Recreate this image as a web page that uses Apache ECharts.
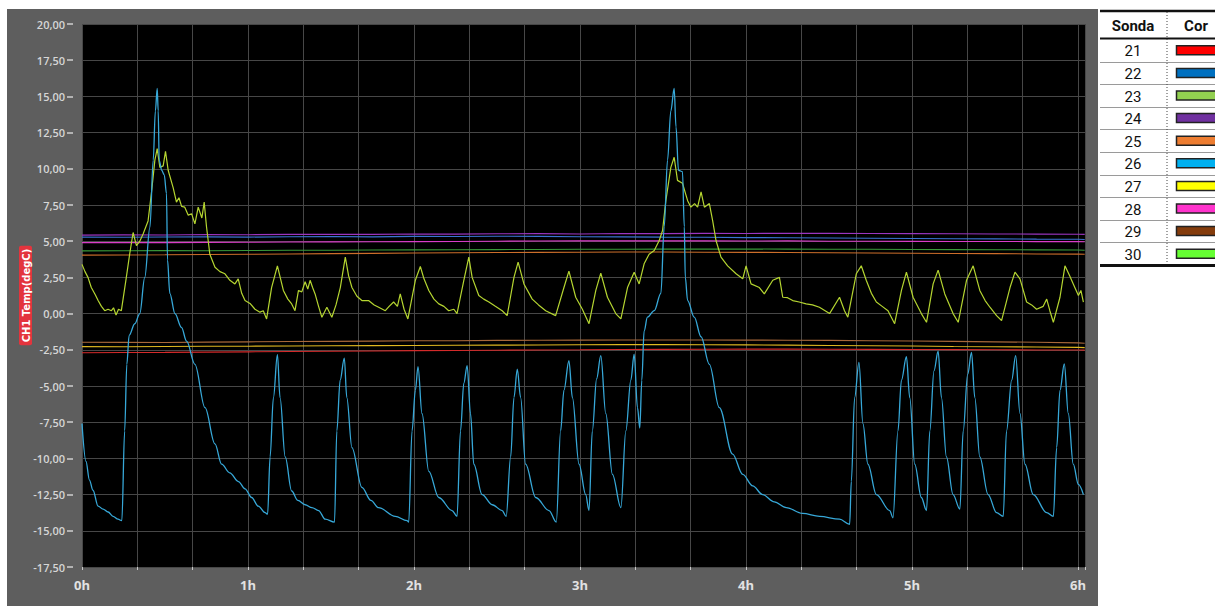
<!DOCTYPE html>
<html>
<head>
<meta charset="utf-8">
<script src="https://cdn.jsdelivr.net/npm/echarts@6/dist/echarts.min.js"></script>
<style>
html,body{margin:0;padding:0;background:#fff;}
#chart{width:1215px;height:606px;}
</style>
</head>
<body>
<div id="chart"></div>
<script>
// ---------- DATA ----------
var xTickLabels = ['0h','1h','2h','3h','4h','5h','6h'];
var yTickLabels = ['20,00','17,50','15,00','12,50','10,00','7,50','5,00','2,50','0,00','-2,50','-5,00','-7,50','-10,00','-12,50','-15,00','-17,50'];

var probeIds = ['21','22','23','24','25','26','27','28','29','30'];
var probeSwatchColors = ['#ff0000','#0070c0','#92d050','#7030a0','#ed7d31','#00b0f0','#ffff00','#ff33cc','#843c0c','#66ff33'];

// time (hours) for slowly varying probes
var tFlat = [0,0.25,0.5,0.75,1,1.25,1.5,1.75,2,2.25,2.5,2.75,3,3.25,3.5,3.75,4,4.25,4.5,4.75,5,5.25,5.5,5.75,6,6.04];
var v24 = [5.42,5.44,5.43,5.46,5.45,5.47,5.48,5.47,5.50,5.49,5.51,5.52,5.50,5.53,5.52,5.54,5.53,5.55,5.54,5.53,5.52,5.51,5.50,5.49,5.48,5.47];
var v22 = [5.28,5.27,5.29,5.30,5.28,5.31,5.32,5.30,5.33,5.32,5.34,5.33,5.31,5.30,5.28,5.27,5.25,5.24,5.22,5.20,5.19,5.17,5.16,5.14,5.13,5.12];
var v28 = [4.90,4.91,4.90,4.92,4.93,4.94,4.95,4.96,4.97,4.98,5.00,5.01,5.02,5.02,5.03,5.02,5.01,5.02,5.00,5.00,4.99,4.98,4.98,4.97,4.97,4.96];
var v30 = [4.33,4.34,4.35,4.34,4.36,4.37,4.38,4.39,4.40,4.41,4.42,4.43,4.44,4.44,4.45,4.45,4.46,4.45,4.44,4.44,4.43,4.42,4.41,4.40,4.39,4.38];
var v25 = [4.04,4.05,4.06,4.08,4.10,4.12,4.14,4.16,4.18,4.20,4.22,4.23,4.24,4.25,4.25,4.24,4.23,4.22,4.20,4.19,4.17,4.15,4.14,4.12,4.11,4.10];
var v29 = [-1.98,-1.99,-2.00,-1.97,-1.95,-1.93,-1.92,-1.90,-1.88,-1.87,-1.85,-1.84,-1.83,-1.82,-1.82,-1.82,-1.83,-1.84,-1.85,-1.87,-1.89,-1.92,-1.95,-1.98,-2.02,-2.05];
var v27 = [-2.28,-2.29,-2.27,-2.26,-2.25,-2.24,-2.22,-2.21,-2.20,-2.19,-2.18,-2.17,-2.15,-2.14,-2.14,-2.15,-2.16,-2.18,-2.20,-2.22,-2.24,-2.27,-2.29,-2.31,-2.33,-2.35];
var v21 = [-2.70,-2.69,-2.68,-2.66,-2.64,-2.62,-2.60,-2.58,-2.56,-2.55,-2.53,-2.51,-2.50,-2.48,-2.47,-2.46,-2.45,-2.45,-2.46,-2.47,-2.48,-2.49,-2.50,-2.51,-2.51,-2.52];

// probe 26 (cyan)
var t26 = [0,0.024,0.045,0.066,0.097,0.127,0.157,0.187,0.217,0.240,0.257,0.270,0.284,0.318,0.348,0.378,0.409,0.429,0.442,0.453,0.459,0.465,0.480,0.495,0.509,0.515,0.529,0.560,0.599,0.630,0.680,0.741,0.801,0.841,0.890,0.942,0.982,1.022,1.062,1.103,1.118,1.133,1.153,1.177,1.193,1.224,1.263,1.300,1.344,1.385,1.425,1.465,1.521,1.535,1.555,1.580,1.595,1.626,1.686,1.740,1.787,1.887,1.958,1.968,1.988,2.008,2.024,2.048,2.089,2.149,2.229,2.259,2.280,2.300,2.320,2.340,2.360,2.410,2.471,2.531,2.555,2.582,2.602,2.622,2.642,2.672,2.733,2.813,2.857,2.883,2.903,2.933,2.954,2.994,3.034,3.054,3.074,3.100,3.125,3.155,3.195,3.246,3.276,3.306,3.326,3.346,3.360,3.372,3.386,3.406,3.447,3.487,3.507,3.527,3.547,3.567,3.578,3.593,3.617,3.628,3.634,3.648,3.688,3.729,3.779,3.839,3.919,3.980,4.040,4.100,4.170,4.242,4.340,4.443,4.563,4.624,4.634,4.654,4.680,4.704,4.734,4.785,4.865,4.885,4.915,4.936,4.966,4.986,5.016,5.056,5.087,5.107,5.132,5.157,5.177,5.207,5.247,5.288,5.308,5.335,5.358,5.378,5.408,5.458,5.509,5.549,5.569,5.600,5.624,5.650,5.680,5.730,5.811,5.851,5.871,5.891,5.917,5.941,5.971,6.002,6.032];
var v26 = [-7.6,-10.2,-11.5,-12.2,-13.3,-13.5,-13.7,-14.0,-14.2,-14.3,-8.1,-3.5,-1.5,-0.7,0.0,2.5,5.95,10.6,14.0,15.55,14.0,10.6,9.9,9.6,8.3,3.7,1.4,0.0,-0.95,-1.9,-3.5,-6.5,-9.0,-10.4,-11.0,-11.6,-12.1,-12.7,-13.3,-13.75,-13.85,-9.9,-5.8,-2.84,-5.8,-9.9,-12.25,-12.9,-13.2,-13.4,-13.6,-14.2,-14.4,-8.1,-4.6,-3.07,-5.8,-9.25,-12.0,-12.9,-13.4,-14.0,-14.3,-14.4,-8.1,-5.3,-3.67,-6.9,-10.9,-12.7,-13.6,-14.0,-8.1,-4.8,-3.6,-6.9,-10.4,-12.5,-13.2,-13.6,-14.0,-9.9,-5.8,-3.83,-5.8,-10.4,-12.7,-13.6,-14.4,-8.1,-5.3,-3.25,-5.8,-10.4,-12.5,-13.6,-8.1,-4.5,-2.9,-6.9,-11.1,-13.4,-8.1,-4.6,-2.8,-6.5,-7.9,-4.6,-1.2,-0.25,0.2,1.4,6.0,10.6,14.0,15.55,12.9,9.9,9.8,6.0,2.5,0.9,-0.25,-1.6,-3.5,-6.5,-9.7,-11.1,-11.9,-12.5,-13.0,-13.4,-13.8,-14.0,-14.2,-14.55,-11.6,-5.8,-3.37,-7.6,-10.4,-12.5,-13.6,-14.1,-8.1,-4.6,-2.98,-5.8,-10.4,-12.7,-13.6,-8.1,-3.95,-2.6,-5.8,-9.9,-12.5,-13.5,-8.1,-4.2,-2.68,-5.8,-9.9,-12.5,-13.75,-14.0,-8.1,-4.6,-2.9,-6.9,-10.4,-12.5,-13.75,-14.0,-9.25,-5.3,-3.48,-6.9,-10.4,-11.8,-12.5];

// probe 23 (yellow-green)
var t23 = [0,0.018,0.036,0.056,0.066,0.080,0.097,0.117,0.137,0.157,0.177,0.190,0.205,0.220,0.237,0.267,0.287,0.308,0.328,0.348,0.368,0.398,0.418,0.439,0.453,0.469,0.489,0.503,0.519,0.549,0.569,0.584,0.600,0.619,0.640,0.660,0.680,0.700,0.722,0.736,0.750,0.770,0.801,0.831,0.861,0.891,0.921,0.941,0.962,0.982,1.012,1.042,1.072,1.092,1.112,1.142,1.177,1.213,1.240,1.263,1.283,1.304,1.324,1.344,1.360,1.374,1.389,1.404,1.425,1.445,1.475,1.505,1.530,1.556,1.586,1.606,1.626,1.656,1.686,1.726,1.760,1.787,1.827,1.850,1.877,1.900,1.917,1.940,1.963,2.008,2.038,2.060,2.089,2.120,2.149,2.180,2.209,2.240,2.259,2.300,2.330,2.350,2.390,2.420,2.451,2.490,2.531,2.561,2.602,2.627,2.662,2.712,2.750,2.793,2.853,2.903,2.933,2.974,3.014,3.054,3.095,3.125,3.165,3.215,3.246,3.286,3.326,3.356,3.386,3.416,3.447,3.477,3.497,3.517,3.547,3.567,3.587,3.617,3.648,3.668,3.690,3.708,3.729,3.749,3.779,3.799,3.819,3.849,3.889,3.940,3.980,4.000,4.030,4.080,4.110,4.161,4.201,4.221,4.250,4.281,4.320,4.362,4.400,4.442,4.503,4.563,4.593,4.613,4.664,4.694,4.724,4.755,4.785,4.820,4.855,4.895,4.936,4.966,5.006,5.056,5.087,5.127,5.157,5.197,5.247,5.278,5.328,5.368,5.408,5.440,5.469,5.509,5.539,5.590,5.620,5.650,5.690,5.720,5.750,5.790,5.811,5.830,5.851,5.891,5.921,5.950,5.971,6.002,6.017,6.032];
var v23 = [3.4,2.9,2.5,1.8,1.6,1.3,0.9,0.5,0.2,0.3,0.2,0.4,-0.1,0.3,0.2,2.5,4.1,5.6,4.7,5.0,5.5,6.4,8.3,10.6,11.4,10.1,10.2,11.2,9.9,8.7,7.7,8.0,7.4,7.35,6.8,6.9,6.2,7.35,6.6,7.7,6.0,4.1,3.2,2.9,2.75,2.3,2.05,2.4,1.4,0.9,0.7,0.3,0.1,0.2,-0.37,1.8,3.3,1.6,1.0,0.67,0.2,1.6,1.5,2.2,1.7,2.3,1.8,1.36,0.5,-0.25,0.44,-0.25,0.6,1.8,3.9,2.6,1.8,1.2,0.9,0.9,0.6,0.44,0.2,0.5,0.8,0.5,1.36,0.3,-0.37,2.3,3.25,2.4,1.6,1.0,0.67,0.5,0.2,0.3,0.0,2.3,3.9,2.5,1.25,1.0,0.8,0.5,0.2,-0.14,2.5,3.55,2.05,1.0,0.6,0.2,-0.14,1.8,2.93,1.13,0.3,-0.7,1.6,2.8,1.13,0.0,-0.37,1.8,2.86,2.05,3.44,4.1,4.36,5.05,5.74,7.8,10.1,10.8,9.2,9.0,7.8,7.35,7.6,7.35,8.4,7.35,7.6,6.4,5.05,3.9,3.3,2.75,2.4,3.3,2.05,1.8,1.36,2.3,2.5,1.13,1.1,0.9,0.8,0.67,0.6,0.44,0.0,1.13,0.2,-0.25,2.75,3.3,2.3,1.4,0.8,0.5,0.2,-0.7,1.6,2.86,1.13,0.0,-0.6,2.05,3.0,1.36,0.0,-0.6,2.3,3.3,1.6,0.9,0.44,-0.14,-0.48,1.8,2.86,2.4,0.8,0.6,0.3,0.5,1.0,0.2,-0.6,1.13,3.3,2.6,2.05,1.25,1.6,0.8];

// ---------- BUILD ----------
function pairs(t, v){ return t.map(function(h,i){ return [h*60, v[i]]; }); }

var lineColors = {
  '21':'#d42a2a','22':'#3a73d4','23':'#b5d531','24':'#9a35c0','25':'#cc6e2a',
  '26':'#37a8d8','27':'#e0b820','28':'#d93cc8','29':'#a8683a','30':'#3a9a3a'
};
function mkSeries(name, data, w, smooth){
  var s = {name:name, type:'line', data:data, showSymbol:false, symbol:'none', silent:true,
    animation:false, lineStyle:{color:lineColors[name], width:w||1.1}, itemStyle:{color:lineColors[name]}};
  if (smooth){ s.smooth = smooth; s.smoothMonotone = 'x'; }
  return s;
}
var series = [
  mkSeries('24', pairs(tFlat, v24)),
  mkSeries('22', pairs(tFlat, v22)),
  mkSeries('28', pairs(tFlat, v28)),
  mkSeries('30', pairs(tFlat, v30)),
  mkSeries('25', pairs(tFlat, v25)),
  mkSeries('29', pairs(tFlat, v29)),
  mkSeries('27', pairs(tFlat, v27)),
  mkSeries('21', pairs(tFlat, v21)),
  mkSeries('23', pairs(t23, v23), 1.2),
  mkSeries('26', pairs(t26, v26), 1.3, 0.35)
];

// legend table (graphic)
var tbl = [];
var tL = 1100, tR = 1216, sepX = 1167, rowTop = 39, rowH = 22.6;
tbl.push({type:'line', shape:{x1:tL,y1:11,x2:tR,y2:11}, style:{stroke:'#111', lineWidth:2.5}});
tbl.push({type:'text', x:1133, y:26, style:{text:'Sonda', font:'bold 15px Roboto', fill:'#111', align:'center', verticalAlign:'middle'}});
tbl.push({type:'text', x:1196, y:26, style:{text:'Cor', font:'bold 15px Roboto', fill:'#111', align:'center', verticalAlign:'middle'}});
tbl.push({type:'line', shape:{x1:tL,y1:38.5,x2:tR,y2:38.5}, style:{stroke:'#111', lineWidth:2}});
for (var i=0;i<probeIds.length;i++){
  var cy = rowTop + rowH*i + rowH/2;
  tbl.push({type:'text', x:1133, y:cy+1, style:{text:probeIds[i], font:'15px Roboto', fill:'#111', align:'center', verticalAlign:'middle'}});
  tbl.push({type:'rect', shape:{x:1176.5, y:cy-4.5, width:45, height:9}, style:{fill:probeSwatchColors[i], stroke:'#222', lineWidth:1.5}});
  if (i < probeIds.length-1){
    var ly = Math.round(rowTop + rowH*(i+1)) + 0.5;
    tbl.push({type:'line', shape:{x1:tL,y1:ly,x2:tR,y2:ly}, style:{stroke:'#9a9a9a', lineWidth:1}});
  }
}
tbl.push({type:'line', shape:{x1:tL,y1:265.5,x2:tR,y2:265.5}, style:{stroke:'#111', lineWidth:3}});
tbl.push({type:'line', shape:{x1:sepX,y1:12,x2:sepX,y2:264}, style:{stroke:'#444', lineWidth:1, lineDash:[1,2]}});

var chart = echarts.init(document.getElementById('chart'), null, {renderer:'svg'});
chart.setOption({
  backgroundColor:'#ffffff',
  animation:false,
  graphic:[
    {type:'rect', z:-10, silent:true, shape:{x:7, y:9, width:1091, height:600}, style:{fill:'#5e5e5e'}}
  ].concat(tbl),
  grid:{left:82, top:24, right:130, bottom:39, show:true, backgroundColor:'#000000', borderWidth:0},
  xAxis:{
    type:'value', min:0, max:362.5, interval:20,
    axisLine:{show:true, onZero:false, lineStyle:{color:'rgba(0,0,0,0)'}},
    axisTick:{show:true, length:3, lineStyle:{color:'#c8c8c8', width:1}},
    axisLabel:{color:'#e2e2e2', fontSize:13, fontWeight:'bold', fontFamily:'Open Sans', margin:11,
      showMinLabel:true, showMaxLabel:true, hideOverlap:false,
      formatter:function(v){ return (Math.abs(v % 60) < 1e-6) ? xTickLabels[Math.round(v/60)] : ''; }},
    splitLine:{show:true, lineStyle:{color:'#474747', width:1}}
  },
  yAxis:{
    type:'value', min:-17.5, max:20, interval:2.5, offset:9,
    axisLine:{show:true, onZero:false, lineStyle:{color:'rgba(0,0,0,0)'}},
    axisTick:{show:true, length:6, lineStyle:{color:'#d0d0d0', width:1.5}},
    axisLabel:{color:'#d6d6d6', fontSize:11, fontWeight:600, fontFamily:'Open Sans', margin:8,
      formatter:function(v){ return yTickLabels[Math.round((20 - v)/2.5)]; }},
    splitLine:{show:true, lineStyle:{color:'#474747', width:1}},
    name:'CH1 Temp(degC)', nameLocation:'middle', nameRotate:90, nameGap:41, nameMoveOverlap:false,
    nameTextStyle:{color:'#ffffff', fontSize:10, fontWeight:'bold', fontFamily:'DejaVu Sans',
      backgroundColor:'#e3343d', padding:[2,3,1,3], borderRadius:2}
  },
  series:series
});
</script>
</body>
</html>
